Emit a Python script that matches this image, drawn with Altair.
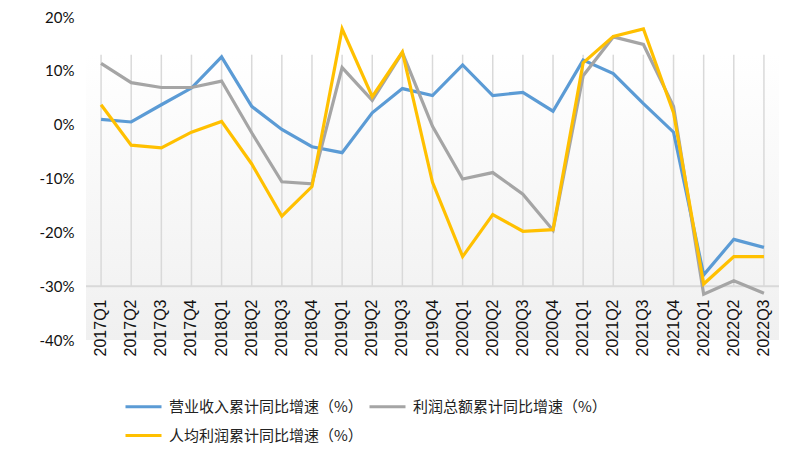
import altair as alt
import pandas as pd

quarters = ["2017Q1", "2017Q2", "2017Q3", "2017Q4", "2018Q1", "2018Q2", "2018Q3", "2018Q4",
            "2019Q1", "2019Q2", "2019Q3", "2019Q4", "2020Q1", "2020Q2", "2020Q3", "2020Q4",
            "2021Q1", "2021Q2", "2021Q3", "2021Q4", "2022Q1", "2022Q2", "2022Q3"]

revenue = [1.0, 0.5, 3.7, 6.8, 12.6, 3.4, -0.9, -4.1, -5.2, 2.2, 6.7, 5.4,
           11.1, 5.4, 6.0, 2.5, 12.0, 9.5, 3.9, -1.4, -27.9, -21.3, -22.8]
profit_total = [11.4, 7.8, 6.9, 6.9, 8.1, -1.5, -10.6, -11.0, 10.6, 4.5, 13.4, -0.3,
                -10.1, -8.9, -12.9, -19.6, 9.1, 16.3, 14.9, 3.4, -31.5, -29.0, -31.3]
profit_per_capita = [3.7, -3.8, -4.3, -1.4, 0.6, -7.3, -17.0, -11.5, 17.8, 5.2, 13.5, -10.7,
                     -24.5, -16.7, -19.8, -19.5, 11.5, 16.4, 17.8, 2.2, -29.6, -24.5, -24.5]

series_names = ["营业收入累计同比增速（%）", "利润总额累计同比增速（%）", "人均利润累计同比增速（%）"]
series_colors = ["#5B9BD5", "#A5A5A5", "#FFC000"]
# legend fills column by column: order so that row 1 = revenue, total profit; row 2 = per-capita
legend_order = [0, 2, 1]
y_ticks = [-40, -30, -20, -10, 0, 10, 20]

rows = []
for name, vals in zip(series_names, [revenue, profit_total, profit_per_capita]):
    for q, v in zip(quarters, vals):
        rows.append({"quarter": q, "series": name, "value": v})
df = pd.DataFrame(rows)
qdf = pd.DataFrame({"quarter": quarters})

W, H = 693, 323

y_scale = alt.Scale(domain=[-40, 20], nice=False, zero=False)
x_scale = alt.Scale(domain=quarters)

x_axis = alt.Axis(title=None, labelAngle=-90, labelFont="Liberation Sans", labelFontSize=16,
                  labelColor="#111111", labelPadding=13, domain=False, ticks=False, grid=False,
                  offset=-54, labelAlign="right", labelBaseline="middle", labelLimit=300,
                  zindex=2)
y_axis = alt.Axis(title=None, values=y_ticks, labelExpr="datum.value + '%'", labelFont="Lato",
                  labelFontSize=15, labelColor="#111111", labelPadding=12, domain=False,
                  ticks=False, grid=False)

grad = alt.Gradient(gradient="linear",
                    stops=[alt.GradientStop(offset=0, color="#ffffff"),
                           alt.GradientStop(offset=1, color="#f0f0f0")],
                    x1=0, x2=0, y1=0, y2=1)

bg = alt.Chart(pd.DataFrame({"a": [0]})).mark_rect(fill=grad).encode(
    y=alt.datum(13, scale=y_scale, axis=y_axis),
    y2=alt.datum(-40),
)

grid = alt.Chart(qdf).mark_rule(color="#d9d9d9", strokeWidth=1.5).encode(
    x=alt.X("quarter:N", sort=quarters, scale=x_scale, axis=x_axis),
    y=alt.datum(13),
    y2=alt.datum(-30),
)

base_line = alt.Chart(pd.DataFrame({"a": [0]})).mark_rule(color="#d9d9d9", strokeWidth=2).encode(
    y=alt.datum(-30),
)

color_enc = alt.Color("series:N",
                      scale=alt.Scale(domain=[series_names[i] for i in legend_order],
                                      range=[series_colors[i] for i in legend_order]),
                      legend=alt.Legend(title=None, orient="none", legendX=38, legendY=370,
                                        columns=2, symbolType="stroke", symbolSize=1296,
                                        symbolStrokeWidth=3, labelFont="Noto Sans CJK SC",
                                        labelFontSize=15, labelColor="#222222", labelOffset=6,
                                        columnPadding=0, rowPadding=1, labelLimit=400))

lines = []
for name in series_names:
    lines.append(
        alt.Chart(df).transform_filter(alt.datum.series == name).mark_line(strokeWidth=3.2).encode(
            x=alt.X("quarter:N", sort=quarters, scale=x_scale),
            y=alt.Y("value:Q", scale=y_scale),
            color=color_enc,
        )
    )

chart = alt.layer(bg, grid, base_line, *lines).properties(
    width=W, height=H,
    autosize=alt.AutoSizeParams(type="none"),
    padding={"left": 78, "top": 9, "right": 20, "bottom": 107},
).configure_view(stroke=None)

chart.save("out.html", embed_options={"renderer": "svg", "actions": False})
